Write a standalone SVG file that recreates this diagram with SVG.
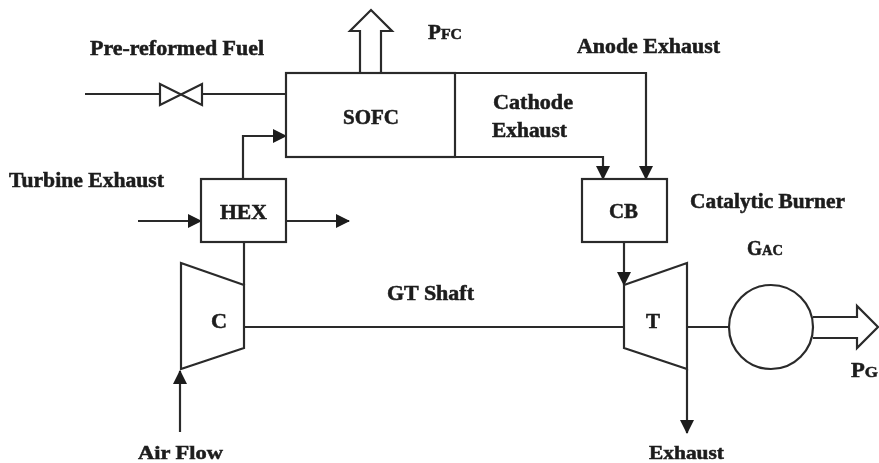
<svg xmlns="http://www.w3.org/2000/svg" width="879" height="463" viewBox="0 0 879 463">
<style>
.s{fill:none;stroke:#2a2a2a;stroke-width:2.2}
.w{fill:#fff;stroke:#2a2a2a;stroke-width:2.2}
text{font-family:"Liberation Serif","Times New Roman",serif;font-weight:bold;font-size:20px;fill:#1c1c1c;stroke:#1c1c1c;stroke-width:.5}
.sm{font-size:15px}
.e{font-size:19px}
</style>
<defs>
<marker id="a" markerUnits="userSpaceOnUse" markerWidth="14" markerHeight="14" refX="13" refY="7" orient="auto"><path d="M0 0L14 7L0 14Z" fill="#1c1c1c"/></marker>
<filter id="b" x="-5%" y="-5%" width="110%" height="110%"><feGaussianBlur stdDeviation="0.45"/></filter>
</defs>
<rect width="879" height="463" fill="#fff"/>
<g filter="url(#b)">
<g id="connectors">
<path class="s" d="M85 94H160M202 94H286"/>
<path class="s" marker-end="url(#a)" d="M243 179V136H286"/>
<path class="s" marker-end="url(#a)" d="M138 221H201"/>
<path class="s" marker-end="url(#a)" d="M286 221H349"/>
<path class="s" d="M244 242V285"/>
<path class="s" d="M244 327H624"/>
<path class="s" marker-end="url(#a)" d="M180 432V371"/>
<path class="s" marker-end="url(#a)" d="M455 73H646V179"/>
<path class="s" marker-end="url(#a)" d="M455 157H603V179"/>
<path class="s" marker-end="url(#a)" d="M624 242V285"/>
<path class="s" marker-end="url(#a)" d="M687 369V433"/>
<path class="s" d="M687 327H730"/>
<path class="s" d="M360 73V31H350L371 10L392 31H381V73"/>
<path class="s" d="M813 317H857V306L878 327L857 348V338H813"/>
</g>
<g id="valve"><path class="s" d="M160 84V105L202 84V105Z"/></g>
<g id="sofc"><rect class="s" x="286" y="73" width="169" height="84"/><text x="343" y="124" textLength="56" lengthAdjust="spacingAndGlyphs">SOFC</text></g>
<g id="hex"><rect class="s" x="201" y="179" width="85" height="63"/><text x="220" y="219" textLength="47" lengthAdjust="spacingAndGlyphs">HEX</text></g>
<g id="cb"><rect class="s" x="582" y="179" width="85" height="63"/><text x="609" y="218" textLength="29" lengthAdjust="spacingAndGlyphs">CB</text></g>
<g id="compressor"><path class="s" d="M181 263L244 285V348L181 369Z"/><text x="211" y="328" textLength="16" lengthAdjust="spacingAndGlyphs">C</text></g>
<g id="turbine"><path class="s" d="M624 285L687 263V369L624 348Z"/><text x="646" y="328" textLength="14" lengthAdjust="spacingAndGlyphs">T</text></g>
<g id="generator"><circle class="w" cx="771" cy="327" r="42"/></g>
<g id="labels">
<text x="90" y="55" textLength="174" lengthAdjust="spacingAndGlyphs">Pre-reformed  Fuel</text>
<text x="9" y="187" textLength="155" lengthAdjust="spacingAndGlyphs">Turbine Exhaust</text>
<text x="428" y="39" textLength="34" lengthAdjust="spacingAndGlyphs">P<tspan class="sm">FC</tspan></text>
<text x="577" y="53" textLength="143" lengthAdjust="spacingAndGlyphs">Anode Exhaust</text>
<text x="493" y="109" textLength="80" lengthAdjust="spacingAndGlyphs">Cathode</text>
<text x="492" y="137" textLength="75" lengthAdjust="spacingAndGlyphs">Exhaust</text>
<text x="690" y="208" textLength="155" lengthAdjust="spacingAndGlyphs">Catalytic Burner</text>
<text x="747" y="255" textLength="36" lengthAdjust="spacingAndGlyphs">G<tspan class="sm">AC</tspan></text>
<text x="387" y="300" textLength="87" lengthAdjust="spacingAndGlyphs">GT  Shaft</text>
<text x="851" y="377" textLength="27" lengthAdjust="spacingAndGlyphs">P<tspan class="sm">G</tspan></text>
<text class="e" x="138" y="458.5" textLength="85" lengthAdjust="spacingAndGlyphs">Air Flow</text>
<text class="e" x="649" y="458.5" textLength="75" lengthAdjust="spacingAndGlyphs">Exhaust</text>
</g>
</g>
</svg>
